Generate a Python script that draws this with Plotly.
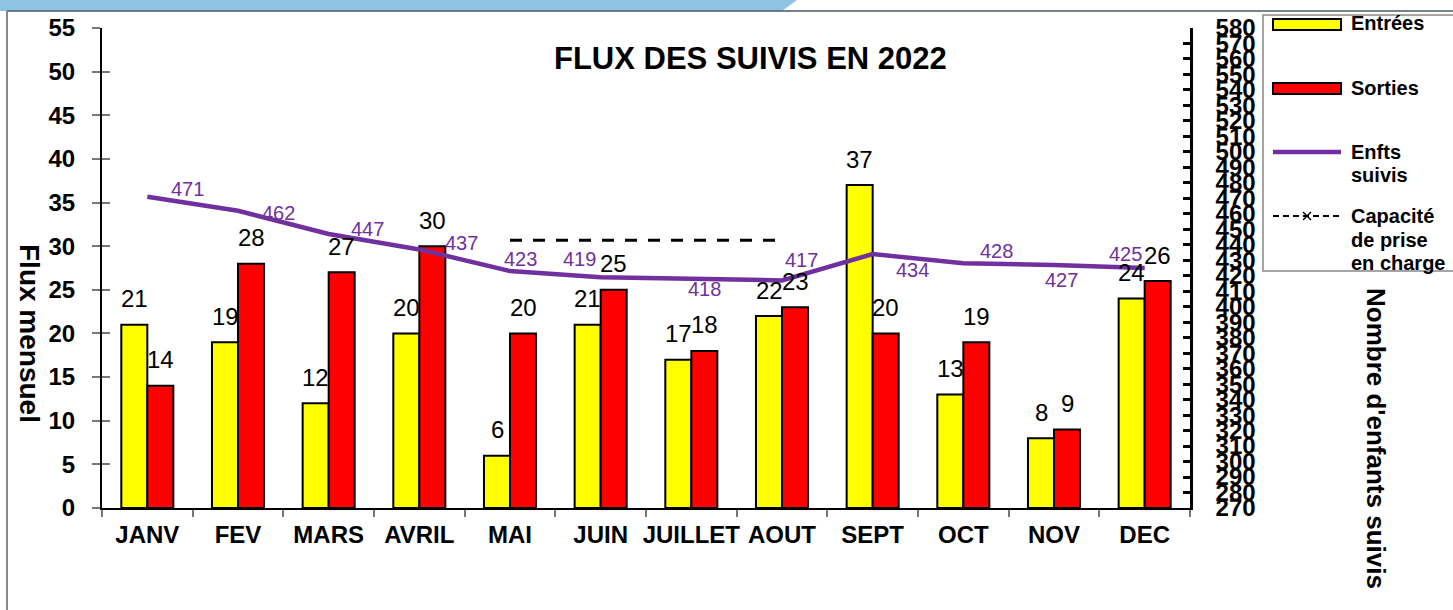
import plotly.graph_objects as go

# ---------------- data ----------------
months = ["JANV", "FEV", "MARS", "AVRIL", "MAI", "JUIN", "JUILLET", "AOUT", "SEPT", "OCT", "NOV", "DEC"]
entrees = [21, 19, 12, 20, 6, 21, 17, 22, 37, 13, 8, 24]
sorties = [14, 28, 27, 30, 20, 25, 18, 23, 20, 19, 9, 26]
enfants_suivis = [471, 462, 447, 437, 423, 419, 418, 417, 434, 428, 427, 425]
capacite = [None, None, None, None, 443, 443, 443, 443, None, None, None, None]
left_ticks = list(range(0, 56, 5))
right_ticks = list(range(270, 581, 10))

# label offsets (style) for the purple value labels, in px
suivis_dx = [40, 40, 39, 42, 10, -21, 13, 19, 40, 33, 7, -19]
suivis_dy = [8, -2, 5, 6, 12, 18, -10, 20, -16, 12, -15, 14]

# ---------------- geometry ----------------
W, H = 1453, 610
L, R, T, B = 102, 1190, 28, 508


def px(x):
    return (x - L) / (R - L)


def py(y):
    return (B - y) / (B - T)


FONT = "Liberation Sans, Arial, sans-serif"
PURPLE = "#7030A0"

fig = go.Figure()
fig.add_trace(go.Bar(x=months, y=entrees, name="Entrées",
                     marker=dict(color="#FFFF00", line=dict(color="black", width=2))))
fig.add_trace(go.Bar(x=months, y=sorties, name="Sorties",
                     marker=dict(color="#FF0000", line=dict(color="black", width=2))))
fig.add_trace(go.Scatter(x=months, y=enfants_suivis, yaxis="y2", mode="lines", name="Enfts suivis",
                         line=dict(color=PURPLE, width=4.5)))
fig.add_trace(go.Scatter(x=months, y=capacite, yaxis="y2", mode="lines", name="Capacité de prise en charge",
                         line=dict(color="black", width=3, dash="12px,11px"), connectgaps=False))
fig.add_trace(go.Scatter(x=[months[0]], y=[None], yaxis="y3", mode="lines", showlegend=False))

annotations = []
# bar value labels
for i, m in enumerate(months):
    annotations.append(dict(x=m, y=entrees[i], xref="x", yref="y", xshift=-13, yshift=26,
                            text=str(entrees[i]), showarrow=False, xanchor="center", yanchor="middle",
                            font=dict(size=24, color="black", family=FONT)))
    annotations.append(dict(x=m, y=sorties[i], xref="x", yref="y", xshift=13, yshift=26,
                            text=str(sorties[i]), showarrow=False, xanchor="center", yanchor="middle",
                            font=dict(size=24, color="black", family=FONT)))
    annotations.append(dict(x=m, y=enfants_suivis[i], xref="x", yref="y2",
                            xshift=suivis_dx[i], yshift=suivis_dy[i],
                            text=str(enfants_suivis[i]), showarrow=False, xanchor="center", yanchor="middle",
                            font=dict(size=20, color=PURPLE, family=FONT)))

# title & axis titles
annotations.append(dict(x=px(750), y=py(58), xref="paper", yref="paper", text="FLUX DES SUIVIS EN 2022",
                        showarrow=False, xanchor="center", yanchor="middle",
                        font=dict(size=31, color="black", family=FONT, weight="bold")))
annotations.append(dict(x=px(30), y=py(333), xref="paper", yref="paper", text="Flux mensuel", textangle=90,
                        showarrow=False, xanchor="center", yanchor="middle",
                        font=dict(size=28, color="black", family=FONT, weight="bold")))
annotations.append(dict(x=px(1376), y=py(438), xref="paper", yref="paper", text="Nombre d'enfants suivis",
                        textangle=90, showarrow=False, xanchor="center", yanchor="middle",
                        font=dict(size=26, color="black", family=FONT, weight="bold")))

# manual legend texts
legend_lines = [("Entrées", 23), ("Sorties", 88), ("Enfts", 152), ("suivis", 175),
                ("Capacité", 216), ("de prise", 240), ("en charge", 263)]
for txt, yy in legend_lines:
    annotations.append(dict(x=px(1349), y=py(yy), xref="paper", yref="paper", text=txt, xanchor="left",
                            yanchor="middle", showarrow=False,
                            font=dict(size=20, color="black", family=FONT, weight="bold")))

shapes = [
    # top blue band
    dict(type="path", xref="paper", yref="paper",
         path=f"M {px(0)},{py(0)} L {px(797)},{py(0)} L {px(782)},{py(11)} L {px(0)},{py(11)} Z",
         fillcolor="#8DC3E3", line=dict(width=0)),
    dict(type="line", xref="paper", yref="paper", x0=px(7), x1=px(1453), y0=py(11), y1=py(11),
         line=dict(color="#4a5a6a", width=1.5)),
    dict(type="line", xref="paper", yref="paper", x0=px(7), x1=px(7), y0=py(11), y1=py(610),
         line=dict(color="#888888", width=2)),
    # legend box
    dict(type="rect", xref="paper", yref="paper", x0=px(1263), x1=px(1460), y0=py(271), y1=py(15),
         line=dict(color="#888888", width=1.5), fillcolor="rgba(0,0,0,0)"),
    dict(type="rect", xref="paper", yref="paper", x0=px(1273), x1=px(1341), y0=py(30), y1=py(19),
         line=dict(color="black", width=2), fillcolor="#FFFF00"),
    dict(type="rect", xref="paper", yref="paper", x0=px(1273), x1=px(1341), y0=py(94), y1=py(83),
         line=dict(color="black", width=2), fillcolor="#FF0000"),
    dict(type="line", xref="paper", yref="paper", x0=px(1273), x1=px(1341), y0=py(152), y1=py(152),
         line=dict(color=PURPLE, width=4.5)),
    dict(type="line", xref="paper", yref="paper", x0=px(1273), x1=px(1341), y0=py(216), y1=py(216),
         line=dict(color="black", width=2, dash="6px,4px")),
    dict(type="line", xref="paper", yref="paper", x0=px(1303), x1=px(1311), y0=py(212), y1=py(220),
         line=dict(color="black", width=1.5)),
    dict(type="line", xref="paper", yref="paper", x0=px(1303), x1=px(1311), y0=py(220), y1=py(212),
         line=dict(color="black", width=1.5)),
]

tickfont = dict(size=24, color="black", family=FONT, weight="bold")

fig.update_layout(
    width=W, height=H,
    margin=dict(l=L, r=W - R, t=T, b=H - B, pad=0, autoexpand=False),
    paper_bgcolor="white", plot_bgcolor="white",
    barmode="group", bargap=0.426, bargroupgap=0,
    showlegend=False, hovermode=False,
    font=dict(family=FONT, color="black"),
    xaxis=dict(type="category", range=[-0.5, 11.5], tickson="boundaries", ticks="outside", ticklen=7,
               tickcolor="#777777", tickwidth=1.5, showline=True, linecolor="black", linewidth=2,
               tickfont=tickfont, tickangle=0, ticklabelstandoff=4, showgrid=False, zeroline=False,
               automargin=False),
    yaxis=dict(range=[0, 55], tickvals=left_ticks, ticks="outside", ticklen=8, tickcolor="#777777",
               tickwidth=1.5, showline=True, linecolor="black", linewidth=2, tickfont=tickfont,
               showgrid=False, zeroline=False, ticklabelstandoff=12, automargin=False),
    yaxis2=dict(range=[270, 580], tickvals=right_ticks, overlaying="y", side="right", anchor="x",
                ticks="inside", ticklen=7, tickwidth=2.5, tickcolor="black", showline=True,
                linecolor="black", linewidth=2.5, tickfont=tickfont, showgrid=False, zeroline=False,
                ticklabelstandoff=18, automargin=False),
    yaxis3=dict(range=[0, 55], tickvals=left_ticks, overlaying="y", side="left", anchor="x",
                ticks="inside", ticklen=8, tickcolor="#777777", tickwidth=1.5, showticklabels=False,
                showline=False, showgrid=False, zeroline=False, automargin=False),
    annotations=annotations,
    shapes=shapes,
)

fig.write_html("out.html", config={"displayModeBar": False},
               post_script="document.body.style.margin='0';document.body.style.overflow='hidden';")
